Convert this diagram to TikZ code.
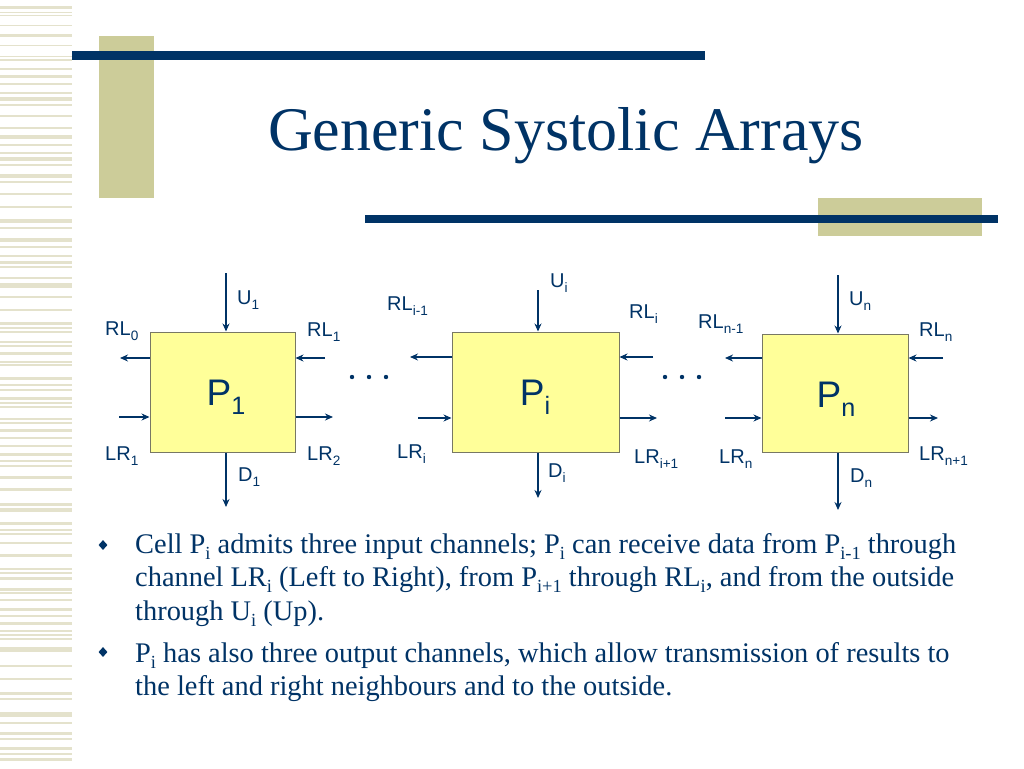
\documentclass[tikz,border=0pt]{standalone}
\usepackage{fontspec}
\setmainfont{Liberation Serif}
\newfontfamily\arialf{Liberation Sans}
\usetikzlibrary{arrows.meta,shapes.geometric}
\definecolor{navy}{RGB}{0,51,102}
\definecolor{gold}{RGB}{204,204,153}
\definecolor{stripe}{RGB}{228,226,204}
\definecolor{boxfill}{RGB}{255,255,153}
\definecolor{boxline}{RGB}{120,120,100}
\newcommand\sbs[1]{\raisebox{-0.25em}{\scalebox{0.68}{#1}}}
\newcommand\tsb[1]{\raisebox{-0.22em}{\scalebox{0.65}{#1}}}
\tikzset{
  arr/.style={draw=navy,line width=1.3pt,-{Stealth[length=8pt,width=7pt]}},
  cell/.style={draw=boxline,line width=1pt,fill=boxfill,inner sep=0pt},
  lbl/.style={anchor=base west,inner sep=0pt,text=navy,font=\arialf\fontsize{20}{20}\selectfont},
  ptxt/.style={anchor=base,inner sep=0pt,text=navy,font=\arialf\fontsize{37}{37}\selectfont},
  bul/.style={anchor=base west,inner sep=0pt,text=navy,font=\fontsize{28.4}{28.4}\selectfont},
  bdot/.style={diamond,fill=navy,inner sep=0pt,minimum width=9pt,minimum height=10pt},
}
\begin{document}
\begin{tikzpicture}[x=1pt,y=-1pt]
\useasboundingbox (0,0) rectangle (1024,768);
\fill[white] (0,0) rectangle (1024,768);
% left stripe band
\foreach \yy/\hh in {6/3,12/1.5,15/1.5,25/1.5,34/3.5,45/1.5,56/1.5,59/2,68/1.5,75/3,83/1.5,92/1.5,97/3.5,104/1.5,115/1.5,127/1.5,135/3.5,144/2,152/1.5,157/3.5,164/1.5,174/3.5,181/1.5,193/1.5,206/1.5,219/3.5,227/1.5,238/3.5,246/1.5,
 255/1.5,261/3,266/1.5,277/1.5,283/3,286/1.5,296/1.5,309/1.5,322/3,327/1.5,331/1.5,341/1.5,345/1.5,352/3,361/1.5,364/1.5,377/3,384/1.5,389/1.5,397/3,402/1.5,406/1.5,418/1.5,422/1.5,429/3,437/1.5,445/1.5,453/3,460/1.5,465/1.5,476/3,488/3,503/3,508/1.5,510/1.5,522/3,529/1.5,533/1.5,542/1.5,554/3,568/1.5,572/1.5,577/3,588/3,592/1.5,599/1.5,608/3,615/1.5,622/3,630/1.5,634/1.5,638/1.5,647/3,650/1.5,665/1.5,678/1.5,692/3,698/1.5,712/3,715/1.5,722/1.5,732/3,738/1.5,747/3,753/1.5,758/3}
  \fill[stripe] (0,\yy) rectangle (72,\yy+\hh);
% decorative bars
\fill[gold] (99,36) rectangle (154,198);
\fill[navy] (72,51) rectangle (705,60);
\fill[gold] (818,198) rectangle (982,236);
\fill[navy] (365,215) rectangle (998,223);
% title
\node[anchor=base,inner sep=0pt,text=navy,font=\fontsize{62}{62}\selectfont] (title) at (566,150) {Generic Systolic Arrays};
% cells
\node[cell,minimum width=145pt,minimum height=120pt] (p1) at (222.5,392) {};
\node[cell,minimum width=167pt,minimum height=120pt] (pi) at (535.5,392) {};
\node[cell,minimum width=146pt,minimum height=118pt] (pn) at (835,393) {};
\node[ptxt] (p1t) at (226,405) {P\sbs{1}};
\node[ptxt] (pit) at (535,405) {P\sbs{i}};
\node[ptxt] (pnt) at (836,407) {P\sbs{n}};
% free ends
\coordinate (u1) at (226,273); \coordinate (d1) at (226,507);
\coordinate (rl0) at (120,358); \coordinate (lr1) at (119,417);
\coordinate (rl1) at (325,358); \coordinate (lr2) at (333,417);
\coordinate (ui) at (538,290); \coordinate (di) at (538,498);
\coordinate (rlim) at (410,357); \coordinate (lri) at (418,418);
\coordinate (rli) at (653,357); \coordinate (lrip) at (657,418);
\coordinate (un) at (838,275); \coordinate (dn) at (838,510);
\coordinate (rlnm) at (725,358); \coordinate (lrn) at (725,418);
\coordinate (rln) at (943,358); \coordinate (lrnp) at (938,418);
% arrows cell 1
\draw[arr] (u1) -- (u1 |- p1.north);
\draw[arr] (d1 |- p1.south) -- (d1);
\draw[arr] (p1.west |- rl0) -- (rl0);
\draw[arr] (lr1) -- (p1.west |- lr1);
\draw[arr] (rl1) -- (p1.east |- rl1);
\draw[arr] (p1.east |- lr2) -- (lr2);
% arrows cell i
\draw[arr] (ui) -- (ui |- pi.north);
\draw[arr] (di |- pi.south) -- (di);
\draw[arr] (pi.west |- rlim) -- (rlim);
\draw[arr] (lri) -- (pi.west |- lri);
\draw[arr] (rli) -- (pi.east |- rli);
\draw[arr] (pi.east |- lrip) -- (lrip);
% arrows cell n
\draw[arr] (un) -- (un |- pn.north);
\draw[arr] (dn |- pn.south) -- (dn);
\draw[arr] (pn.west |- rlnm) -- (rlnm);
\draw[arr] (lrn) -- (pn.west |- lrn);
\draw[arr] (rln) -- (pn.east |- rln);
\draw[arr] (pn.east |- lrnp) -- (lrnp);
% labels cell 1
\node[lbl] (lu1) at (237,304) {U\sbs{1}};
\node[lbl] (lrl0) at (105,335) {RL\sbs{0}};
\node[lbl] (lrl1) at (307,336) {RL\sbs{1}};
\node[lbl] (llr1) at (105,460) {LR\sbs{1}};
\node[lbl] (llr2) at (307,460) {LR\sbs{2}};
\node[lbl] (ld1) at (238,481) {D\sbs{1}};
% labels cell i
\node[lbl] (lui) at (550,287) {U\sbs{i}};
\node[lbl] (lrlim) at (387,310) {RL\sbs{i-1}};
\node[lbl] (lrli) at (629,318) {RL\sbs{i}};
\node[lbl] (llri) at (397,458) {LR\sbs{i}};
\node[lbl] (llrip) at (634,463) {LR\sbs{i+1}};
\node[lbl] (ldi) at (548,477) {D\sbs{i}};
% labels cell n
\node[lbl] (lun) at (849,305) {U\sbs{n}};
\node[lbl] (lrlnm) at (698,328) {RL\sbs{n-1}};
\node[lbl] (lrln) at (919,336) {RL\sbs{n}};
\node[lbl] (llrn) at (719,463) {LR\sbs{n}};
\node[lbl] (llrnp) at (919,460) {LR\sbs{n+1}};
\node[lbl] (ldn) at (850,482) {D\sbs{n}};
% ellipses
\foreach \xx in {352,369,386,665,682,699} \fill[navy] (\xx,377) circle (2.2pt);
% bullets
\node[bdot] (b1) at (103,545) {};
\node[bdot] (b2) at (103,652) {};
\node[bul] (t1) at (135,553) {Cell P\tsb{i} admits three input channels; P\tsb{i} can receive data from P\tsb{i-1} through};
\node[bul] (t2) at (135,586) {channel LR\tsb{i} (Left to Right), from P\tsb{i+1} through RL\tsb{i}, and from the outside};
\node[bul] (t3) at (135,620) {through U\tsb{i} (Up).};
\node[bul] (t4) at (135,662) {P\tsb{i} has also three output channels, which allow transmission of results to};
\node[bul] (t5) at (135,695) {the left and right neighbours and to the outside.};
\end{tikzpicture}
\end{document}
